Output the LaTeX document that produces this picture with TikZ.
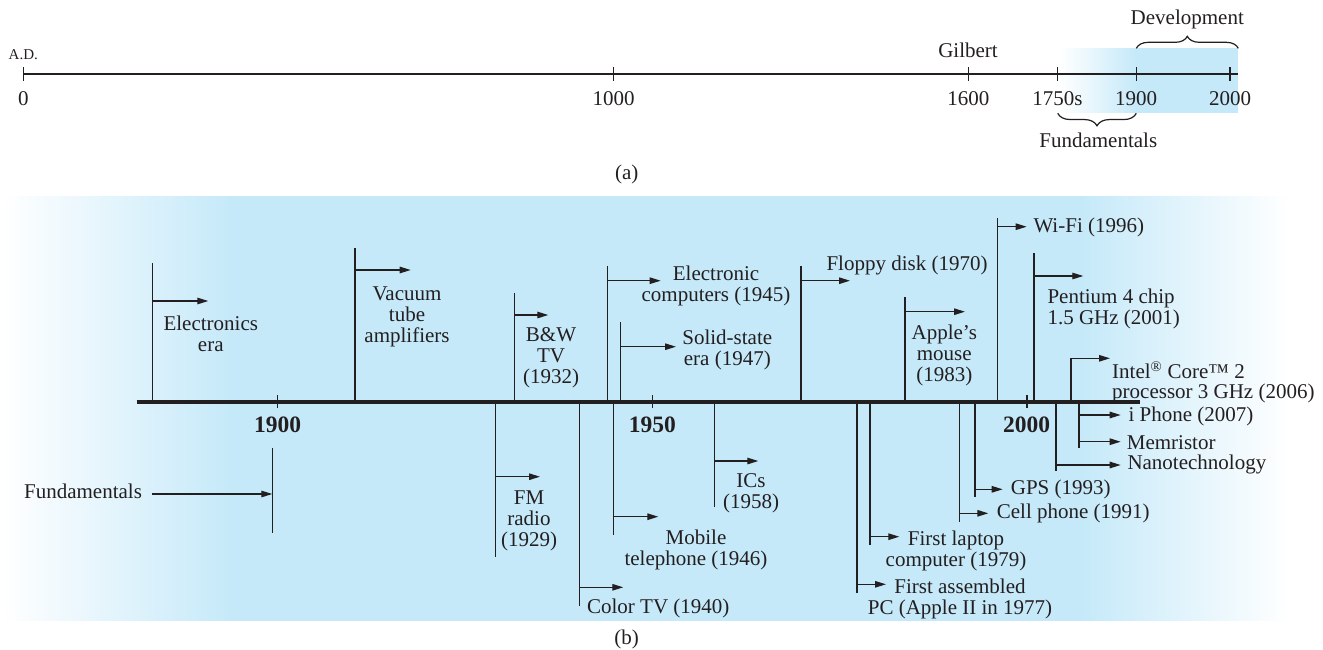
\documentclass[tikz,border=0pt]{standalone}
\usepackage{fontspec}
\setmainfont{Liberation Serif}
\usetikzlibrary{arrows.meta,decorations.pathreplacing}
\definecolor{bluec}{RGB}{197,233,249}
\definecolor{ink}{RGB}{35,31,32}
\newcommand\tlevent[5]{%
  \coordinate (#1-base) at (#2,401.7);
  \coordinate (#1-end) at (#2,#3);
  \coordinate (#1-from) at (#2,#4);
  \coordinate (#1-tip) at (#5,#4);
  \draw[evline] (#1-base) -- (#1-end);
  \draw[evarrow] (#1-from) -- (#1-tip);}
\tikzset{
  evline/.style={draw=ink, line width=1.25pt},
  evarrow/.style={draw=ink, line width=1.25pt, -{Triangle[length=11pt,width=6.5pt]}},
  thinax/.style={draw=ink, line width=1.2pt},
  brc/.style={draw=ink, line width=1.2pt, decorate},
  lbl/.style={font=\fontsize{21}{21}\selectfont, text=ink, inner sep=0pt, align=center},
  lbll/.style={lbl, align=left, anchor=west},
  yrlbl/.style={font=\fontsize{23.5}{24}\selectfont\bfseries, text=ink, inner sep=0pt},
}
\begin{document}
\begin{tikzpicture}[x=1pt,y=-1pt]
\useasboundingbox (0,0) rectangle (1323,649);
% ---------- (a) ----------
\shade[left color=white, right color=bluec] (1060,48.3) rectangle (1136.8,112.7);
\fill[bluec] (1136.3,48.3) rectangle (1238.3,112.7);
\coordinate (ta0) at (23.3,74);
\coordinate (taend) at (1237.7,74);
\draw[thinax] (ta0) -- (taend);
\foreach \x in {23.3,613.7,968.3,1057.7,1136.3,1230}
  \draw[thinax] (\x,67.3) -- (\x,81);
\node[lbl, font=\fontsize{15}{15}\selectfont] (ad) at (23.3,54.9) {A.D.};
\node[lbl] (t0) at (23.3,98.2) {0};
\node[lbl] (t1000) at (613.7,98.2) {1000};
\node[lbl] (t1600) at (968.3,98.2) {1600};
\node[lbl] (t1750) at (1057.5,98.2) {1750s};
\node[lbl] (t1900) at (1136,98.2) {1900};
\node[lbl] (t2000) at (1230,98.2) {2000};
\node[lbl] (gil) at (968,50.5) {Gilbert};
\coordinate (devL) at (1136.3,48.3);
\coordinate (devR) at (1238.3,48.3);
\draw[brc, decoration={brace, amplitude=12pt}] (devL) -- (devR);
\node[lbl] (dev) at (1187.3,19.5) {Development};
\coordinate (funL) at (1057.7,113.3);
\coordinate (funR) at (1136.3,113.3);
\draw[brc, decoration={brace, amplitude=12.5pt}] (funR) -- (funL);
\node[lbl] (funt) at (1098.3,139.9) {Fundamentals};
\node[lbl] (capa) at (626.7,174) {(a)};
% ---------- (b) ----------
\shade[left color=white, right color=bluec] (0,196) rectangle (233.5,620.7);
\fill[bluec] (233,196) rectangle (1080.5,620.7);
\shade[left color=bluec, right color=white] (1080,196) rectangle (1290,620.7);
\coordinate (ma0) at (136.7,401.7);
\coordinate (maend) at (1140,401.7);
\draw[draw=ink, line width=4pt] (ma0) -- (maend);
\foreach \x in {277.7,652.3,1027}
  \draw[evline] (\x,395) -- (\x,408);
\node[yrlbl] (y1900) at (277.7,425) {1900};
\node[yrlbl] (y1950) at (652.3,425) {1950};
\node[yrlbl] (y2000) at (1026.7,425) {2000};
% events
\tlevent{elec}{152.7}{263.3}{301}{208.3}
\tlevent{vac}{355}{247.7}{270}{410.7}
\tlevent{fm}{495.7}{556.7}{476.7}{540}
\tlevent{bw}{514.3}{293.3}{315}{548.3}
\tlevent{color}{579.3}{605.7}{587.3}{623.3}
\tlevent{ecomp}{607.3}{266}{280.7}{660.7}
\tlevent{mobile}{613.3}{535}{516.7}{658.3}
\tlevent{solid}{620.3}{321.7}{346.7}{676}
\tlevent{ics}{714.3}{507.3}{461}{758.3}
\tlevent{floppy}{801}{266}{280.7}{850}
\tlevent{pcasm}{857}{592.7}{584.3}{886}
\tlevent{laptop}{870}{545}{536.7}{899.3}
\tlevent{mouse}{905}{297.3}{311.7}{965}
\tlevent{cell}{959.3}{521.7}{513.3}{988.3}
\tlevent{gps}{975}{496.7}{489.3}{1002.7}
\tlevent{wifi}{997.3}{218.3}{226.7}{1026.7}
\tlevent{pent}{1034}{253.3}{276}{1083.3}
\tlevent{nano}{1056}{470.7}{465}{1120.7}
\tlevent{iph}{1079}{448.3}{415}{1120.7}
\coordinate (mem-from) at (1079,441.7);
\coordinate (mem-tip) at (1120.7,441.7);
\draw[evarrow] (mem-from) -- (mem-tip);
\coordinate (intel-base) at (1071,401.7);
\coordinate (intel-tip) at (1110,358.3);
\draw[evarrow] (intel-base) |- (intel-tip);
% fundamentals
\coordinate (fl-t) at (272.3,447.7);
\coordinate (fl-b) at (272.3,532.7);
\draw[evline] (fl-t) -- (fl-b);
\node[lbl] (fundb) at (83,491.5) {Fundamentals};
\coordinate (fa-from) at (151.7,494);
\coordinate (fa-tip) at (272.3,494);
\draw[evarrow] (fa-from) -- (fa-tip);
% labels
\node[lbl] (l-elec) at (210.8,333.7) {Electronics\\era};
\node[lbl] (l-vac) at (407,317.2) {Vacuum\\tube\\amplifiers};
\node[lbl] (l-fm) at (529,521) {FM\\radio\\(1929)};
\node[lbl] (l-bw) at (551,357.4) {B\&W\\TV\\(1932)};
\node[lbl] (l-color) at (658.3,608.5) {Color TV (1940)};
\node[lbl] (l-ecomp) at (716,286.3) {Electronic\\computers (1945)};
\node[lbl] (l-mobile) at (696,549.7) {Mobile\\telephone (1946)};
\node[lbl] (l-solid) at (727.3,349.6) {Solid-state\\era (1947)};
\node[lbl] (l-ics) at (751,493.6) {ICs\\(1958)};
\node[lbl] (l-floppy) at (907,265.4) {Floppy disk (1970)};
\node[lbl] (l-mouse) at (944.3,355.9) {Apple’s\\mouse\\(1983)};
\node[lbll] (l-wifi) at (1033.3,227.5) {Wi-Fi (1996)};
\node[lbll] (l-pent) at (1047.3,308.5) {Pentium 4 chip\\1.5 GHz (2001)};
\node[lbll, font=\fontsize{21}{19.5}\selectfont] (l-intel) at (1112,382.2) {Intel\textsuperscript{®} Core™ 2\\processor 3 GHz (2006)};
\node[lbll] (l-cell) at (996.7,513.9) {Cell phone (1991)};
\node[lbll] (l-gps) at (1010.7,489) {GPS (1993)};
\node[lbll] (l-nano) at (1127.3,464.8) {Nanotechnology};
\node[lbll] (l-iph) at (1128.3,416.7) {i Phone (2007)};
\node[lbll] (l-mem) at (1126.7,442.5) {Memristor};
\node[lbl] (l-laptop) at (956,551.3) {First laptop\\computer (1979)};
\node[lbl] (l-pcasm) at (960,598.8) {First assembled\\PC (Apple II in 1977)};
\node[lbl] (capb) at (626.7,639) {(b)};
\end{tikzpicture}
\end{document}
